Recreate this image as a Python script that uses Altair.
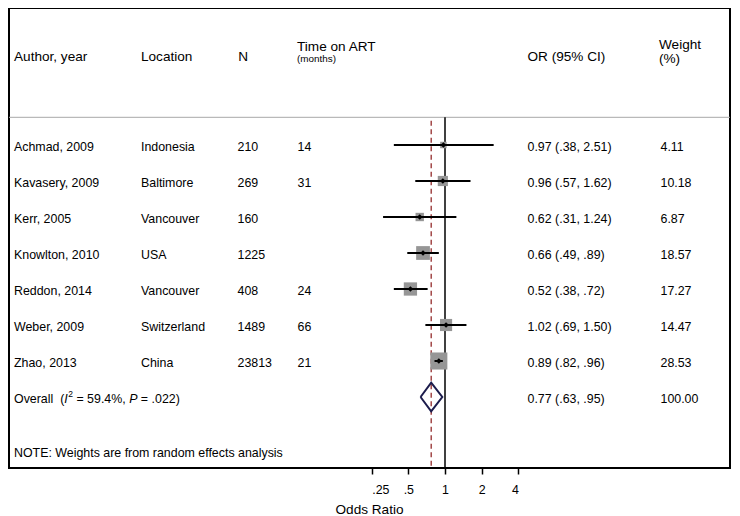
import altair as alt
import pandas as pd

# ---------------- data ----------------
authors = ["Achmad, 2009", "Kavasery, 2009", "Kerr, 2005", "Knowlton, 2010",
           "Reddon, 2014", "Weber, 2009", "Zhao, 2013"]
locations = ["Indonesia", "Baltimore", "Vancouver", "USA", "Vancouver",
             "Switzerland", "China"]
sample_n = ["210", "269", "160", "1225", "408", "1489", "23813"]
time_on_art = ["14", "31", "", "", "24", "66", "21"]
odds_ratio = [0.97, 0.96, 0.62, 0.66, 0.52, 1.02, 0.89]
ci_lower = [0.38, 0.57, 0.31, 0.49, 0.38, 0.69, 0.82]
ci_upper = [2.51, 1.62, 1.24, 0.89, 0.72, 1.50, 0.96]
weights = [4.11, 10.18, 6.87, 18.57, 17.27, 14.47, 28.53]

overall_or = 0.77
overall_lower = 0.63
overall_upper = 0.95
overall_weight = 100.00
i2_value = "59.4%"
p_value = ".022"

header_labels = ["Author, year", "Location", "N", "Time on ART", "(months)",
                 "OR (95% CI)", "Weight", "(%)"]
note_text = "NOTE: Weights are from random effects analysis"
tick_values = [0.25, 0.5, 1, 2, 4]
tick_labels = [".25", ".5", "1", "2", "4"]
axis_title = "Odds Ratio"

# ---------------- layout / style ----------------
FONT = "Liberation Sans"
W, H = 721, 460
FS = 12.4      # body text
HFS = 13.6     # header text
SEP_Y = 109.3
TEXT_DY = 2


def fmt_ci(v):
    s = f"{v:.2f}"
    return s[1:] if s.startswith("0") else s


studies = pd.DataFrame({
    "row": list(range(len(authors))),
    "author": authors,
    "location": locations,
    "n": sample_n,
    "time": time_on_art,
    "or": odds_ratio,
    "lower": ci_lower,
    "upper": ci_upper,
    "weight": weights,
    "ci_text": [f"{o:.2f} ({fmt_ci(l)}, {fmt_ci(u)})"
                for o, l, u in zip(odds_ratio, ci_lower, ci_upper)],
    "w_text": [f"{w:.2f}" for w in weights],
})
overall_row = len(authors)

xscale = alt.Scale(type="log", base=2, domain=[tick_values[0], tick_values[-1]],
                   range=[362.7, 509.3], nice=False)
yscale = alt.Scale(domain=[0, overall_row], range=[137, 389], nice=False, zero=False)

label_expr = ""
for v, lab in zip(tick_values, tick_labels):
    label_expr += f"datum.value == {v} ? '{lab}' : "
label_expr += "datum.label"

x_axis = alt.Axis(values=tick_values, labelExpr=label_expr, domain=False,
                  ticks=True, tickSize=6, tickWidth=1.5, tickColor="black",
                  labelFont=FONT, labelFontSize=FS, labelColor="black",
                  labelPadding=9.5, grid=False, title=axis_title,
                  titleFont=FONT, titleFontSize=HFS, titleFontWeight="normal",
                  titleColor="black", titleX=360, titleY=41.5,
                  titleBaseline="middle", titleAlign="center", titleAngle=0)


def X(field):
    return alt.X(f"{field}:Q", scale=xscale, axis=x_axis)


def Y(field):
    return alt.Y(f"{field}:Q", scale=yscale, axis=None)


layers = []

# separator line under header
layers.append(alt.Chart(pd.DataFrame({"k": [0]})).mark_rule(
    color="#a8a8a8", strokeWidth=1).encode(
    x=alt.value(0), x2=alt.value(W), y=alt.value(SEP_Y)))

# null line at OR = 1
layers.append(alt.Chart(pd.DataFrame({"v": [1.0]})).mark_rule(
    color="black", strokeWidth=1.5).encode(
    x=X("v"), y=alt.value(SEP_Y), y2=alt.value(H)))

# dashed overall line
layers.append(alt.Chart(pd.DataFrame({"v": [overall_or]})).mark_rule(
    color="#8b1a1a", strokeWidth=1.2, strokeDash=[5, 3.5]).encode(
    x=X("v"), y=alt.value(SEP_Y + 3.5), y2=alt.value(H)))

# weight boxes
layers.append(alt.Chart(studies).mark_square(
    color="#969696", opacity=1).encode(
    x=X("or"), y=Y("row"),
    size=alt.Size("weight:Q", scale=alt.Scale(domain=[0, 100], range=[0, 1020]),
                  legend=None)))

# CI lines
layers.append(alt.Chart(studies).mark_rule(color="black", strokeWidth=2).encode(
    x=X("lower"), x2="upper:Q", y=Y("row")))

# point estimates
layers.append(alt.Chart(studies).mark_point(
    shape="diamond", filled=True, color="black", size=32, opacity=1).encode(
    x=X("or"), y=Y("row")))

# overall diamond
half = 0.4
diamond = pd.DataFrame({
    "x": [overall_lower, overall_or, overall_upper, overall_or, overall_lower],
    "y": [overall_row, overall_row - half, overall_row, overall_row + half, overall_row],
    "o": [0, 1, 2, 3, 4],
})
layers.append(alt.Chart(diamond).mark_line(
    color="#1c1c4c", strokeWidth=2, strokeJoin="miter").encode(
    x=X("x"), y=Y("y"), order="o:O"))

# table columns
col_x = {"author": 5, "location": 132, "n": 228.5, "time": 288.5,
         "ci_text": 518.5, "w_text": 651.5}
for field, xpos in col_x.items():
    layers.append(alt.Chart(studies).mark_text(
        align="left", baseline="middle", font=FONT, fontSize=FS,
        color="black", dy=TEXT_DY).encode(
        x=alt.value(xpos), y=Y("row"), text=f"{field}:N"))

# overall row
AW = {' ': 278, 'O': 778, 'v': 500, 'e': 556, 'r': 333, 'a': 556, 'l': 222,
      '(': 333, ')': 333, 'I': 278, 'P': 667, '=': 584, '.': 278, ',': 278,
      '%': 889}


def tw(s, size):
    return sum(AW.get(c, 556) for c in s) * size / 1000


SUP = 8.5
x0 = col_x["author"]
x1 = x0 + tw("Overall  ", FS)
x2 = x1 + tw("(", FS)
x3 = x2 + tw("I", FS) + 0.5
x4 = x3 + tw("2", SUP) + tw(" ", FS)
s4 = "= " + i2_value + ","
x5 = x4 + tw(s4 + " ", FS)
x6 = x5 + tw("P ", FS)
s6 = "= " + p_value + ")"
pieces = [
    ("Overall", x0, FS, "normal", 0),
    ("(", x1, FS, "normal", 0),
    ("I", x2, FS, "italic", 0),
    ("2", x3, SUP, "normal", -5),
    (s4, x4, FS, "normal", 0),
    ("P", x5, FS, "italic", 0),
    (s6, x6, FS, "normal", 0),
    (f"{overall_or:.2f} ({fmt_ci(overall_lower)}, {fmt_ci(overall_upper)})",
     col_x["ci_text"], FS, "normal", 0),
    (f"{overall_weight:.2f}", col_x["w_text"], FS, "normal", 0),
]
for txt, xpos, size, style, dy in pieces:
    layers.append(alt.Chart(pd.DataFrame({"t": [txt], "row": [overall_row]})).mark_text(
        align="left", baseline="middle", font=FONT, fontSize=size,
        fontStyle=style, color="black", dy=TEXT_DY + dy).encode(
        x=alt.value(xpos), y=Y("row"), text="t:N"))

# headers
header_pos = [
    (5, 48.5, HFS), (132, 48.5, HFS), (229.3, 48.5, HFS),
    (288, 38.5, HFS), (288, 51.1, 9.9),
    (518.5, 48.5, HFS), (650, 37.3, HFS), (650, 51.1, HFS),
]
for lab, (xpos, ypos, size) in zip(header_labels, header_pos):
    layers.append(alt.Chart(pd.DataFrame({"t": [lab]})).mark_text(
        align="left", baseline="middle", font=FONT, fontSize=size,
        color="black").encode(x=alt.value(xpos), y=alt.value(ypos), text="t:N"))

# note
layers.append(alt.Chart(pd.DataFrame({"t": [note_text]})).mark_text(
    align="left", baseline="middle", font=FONT, fontSize=FS,
    color="black").encode(x=alt.value(5), y=alt.value(445.3), text="t:N"))

chart = alt.layer(*layers).properties(
    width=W, height=H, padding=0, background="white"
).configure_view(stroke="black", strokeWidth=2)

chart.save("out.html", embed_options={"renderer": "svg", "actions": False})
